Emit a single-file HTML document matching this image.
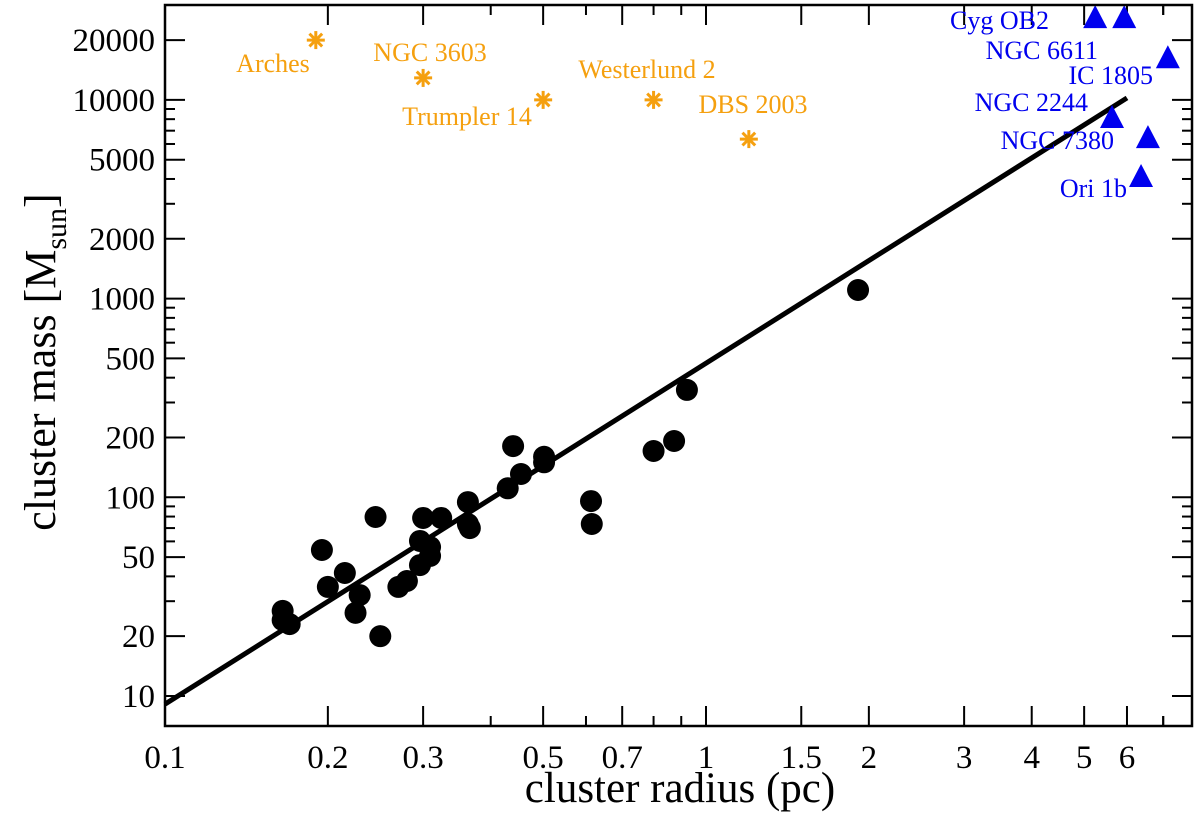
<!DOCTYPE html>
<html><head><meta charset="utf-8"><style>
body{margin:0;background:#fff;}
svg{display:block;font-family:"Liberation Serif",serif;}
</style></head><body>
<svg id="chart" width="1200" height="813" viewBox="0 0 1200 813" xmlns="http://www.w3.org/2000/svg"></svg>
<script>
// data
const clusterRadius = [0.165,0.165,0.170,0.195,0.200,0.215,0.229,0.225,0.250,0.245,0.270,0.280,0.296,0.296,0.300,0.309,0.309,0.324,0.363,0.363,0.366,0.430,0.440,0.455,0.502,0.502,0.613,0.615,0.80,0.873,0.922,1.91];
const clusterMass   = [26.8,24.1,23.0,54.3,35.4,41.6,32.2,26.2,20,79.6,35.4,37.9,45.6,60.3,78.7,56.2,50.7,78.7,94.6,73.4,70.0,111,181,131,160,150,95.7,73.4,171,192,347,1105];
const massiveNames  = ["Arches","NGC 3603","Trumpler 14","Westerlund 2","DBS 2003"];
const massiveRadius = [0.19,0.30,0.50,0.80,1.20];
const massiveMass   = [20000,12900,10000,10000,6350];
const obNames  = ["Cyg OB2","Cyg OB2b","IC 1805","NGC 2244","NGC 7380","Ori 1b"];
const obRadius = [5.24,5.93,7.14,5.63,6.56,6.37];
const obMass   = [26100,26100,16400,8200,6500,4140];
const fitRadius = [0.1,6];
const fitMass   = [9.1,10230];
const xTicks = [0.1,0.2,0.3,0.5,0.7,1,1.5,2,3,4,5,6];
const xTickLabels = ["0.1","0.2","0.3","0.5","0.7","1","1.5","2","3","4","5","6"];
const yTicks = [10,20,50,100,200,500,1000,2000,5000,10000,20000];
const yTickLabels = ["10","20","50","100","200","500","1000","2000","5000","10000","20000"];

const L=165,R=1192,T=5,B=726;
const X0=165, XD=541, Y0=696, YD=198.7;
function xs(v){return X0+XD*Math.log10(v/0.1);}
function ys(v){return Y0-YD*Math.log10(v/10);}
const svg=document.getElementById('chart');
const NS='http://www.w3.org/2000/svg';
function mk(tag,attrs,parent){const e=document.createElementNS(NS,tag);for(const k in attrs)e.setAttribute(k,attrs[k]);(parent||svg).appendChild(e);return e;}

// ticks
const ticksG=mk('g',{});


const xMinor=[],yMinor=[];
[0.1,1].forEach(d=>{for(let i=1;i<10;i++){const v=d*i;if(!xTicks.some(t=>Math.abs(t-v)<1e-9))xMinor.push(v);}});
xMinor.push(7);
[10,100,1000,10000].forEach(d=>{for(let i=1;i<10;i++){const v=d*i;if(v<29000&&!yTicks.some(t=>Math.abs(t-v)<1e-9))yMinor.push(v);}});
function xt(v,len){const x=xs(v);if(x<L||x>R)return;mk('line',{x1:x,y1:B,x2:x,y2:B-len,stroke:'#000','stroke-width':2},ticksG);mk('line',{x1:x,y1:T,x2:x,y2:T+len,stroke:'#000','stroke-width':2},ticksG);}
function yt(v,len){const y=ys(v);if(y<T||y>B)return;mk('line',{x1:L,y1:y,x2:L+len,y2:y,stroke:'#000','stroke-width':2},ticksG);mk('line',{x1:R,y1:y,x2:R-len,y2:y,stroke:'#000','stroke-width':2},ticksG);}
xTicks.forEach(v=>xt(v,20));xMinor.forEach(v=>xt(v,10));
yTicks.forEach(v=>yt(v,20));yMinor.forEach(v=>yt(v,10));

// tick labels
xTicks.forEach((v,i)=>{const t=mk('text',{x:xs(v),y:768,'text-anchor':'middle','font-size':33});t.textContent=xTickLabels[i];

});
yTicks.forEach((v,i)=>{const t=mk('text',{x:155,y:ys(v)+11,'text-anchor':'end','font-size':33});t.textContent=yTickLabels[i];

});

// fit line
const fl=mk('line',{x1:xs(fitRadius[0]),y1:ys(fitMass[0]),x2:xs(fitRadius[1]),y2:ys(fitMass[1]),stroke:'#000','stroke-width':5});



// black clusters
clusterRadius.forEach((r,i)=>{const c=mk('circle',{cx:xs(r),cy:ys(clusterMass[i]),r:11,fill:'#000'});

});

// orange asterisks
const orange='#f5a00f';
const mLabelPos=[[273,72],[430,61],[467,125],[647,78],[753,113]];
massiveRadius.forEach((r,i)=>{const x=xs(r),y=ys(massiveMass[i]);const g=mk('g',{stroke:orange,'stroke-width':3});


for(let k=0;k<4;k++){const a=k*Math.PI/4;mk('line',{x1:x-9*Math.cos(a),y1:y-9*Math.sin(a),x2:x+9*Math.cos(a),y2:y+9*Math.sin(a)},g);}
const t=mk('text',{x:mLabelPos[i][0],y:mLabelPos[i][1],'text-anchor':'middle','font-size':26,fill:orange});t.textContent=massiveNames[i];

});

// blue triangles
const blue='#0000ee';
obRadius.forEach((r,i)=>{const x=xs(r),y=ys(obMass[i]);const p=mk('polygon',{points:`${x-12},${y+11} ${x+12},${y+11} ${x},${y-12}`,fill:blue});

});
const obLabels=[["Cyg OB2",1049,29],["NGC 6611",1098,59],["IC 1805",1153,84],["NGC 2244",1088,111],["NGC 7380",1114,149],["Ori 1b",1127,197]];
obLabels.forEach(l=>{const t=mk('text',{x:l[1],y:l[2],'text-anchor':'end','font-size':26,fill:blue});t.textContent=l[0];

});

// frame
const fr=mk('rect',{x:L,y:T,width:R-L,height:B-T,fill:'none',stroke:'#000','stroke-width':2.5});



// axis titles
const xtT=mk('text',{x:680,y:802,'text-anchor':'middle','font-size':43});xtT.textContent='cluster radius (pc)';


const ytT=mk('text',{transform:'translate(55,362) rotate(-90)','text-anchor':'middle','font-size':44});
ytT.innerHTML='cluster mass [M<tspan font-size="30" dy="11">sun</tspan><tspan dy="-11">]</tspan>';


</script>
</body></html>
